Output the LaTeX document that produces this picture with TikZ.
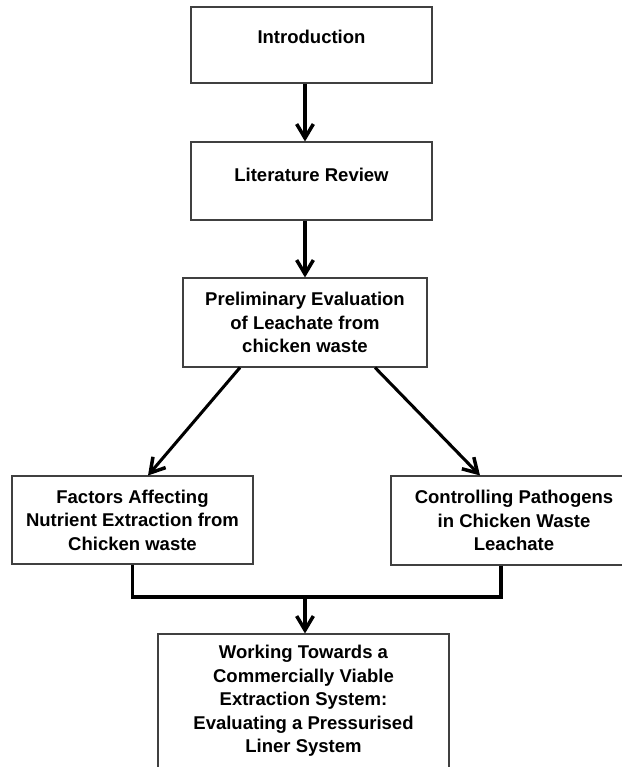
\documentclass[tikz,border=0pt]{standalone}
\usepackage{fontspec}
\setmainfont{Liberation Sans}
\usetikzlibrary{arrows.meta}

\begin{document}
\begin{tikzpicture}%[node distance = 4cm]
  [node distance=4.08cm,
   box/.style={rectangle, draw=black!75, line width=0.9pt, align=center, inner sep=0pt,
     font=\bfseries\fontsize{15.8}{20}\selectfont},
   flow/.style={line width=2.6pt, -{Straight Barb[length=0.42cm,width=0.5cm,line width=3pt]}},
   merger/.style={line width=2.6pt}]

\useasboundingbox (0,0) rectangle (18.66,-23.01);

%%%  nodes

% top
\node [box, minimum width=7.23cm, minimum height=2.28cm, text depth=0.48cm] (intro) at (9.345,-1.35) {Introduction};

% next from top
\node [box, below of=intro, minimum width=7.23cm, minimum height=2.34cm, text depth=0.36cm] (lit) {Literature Review};

% evaluation
\node [box, below of=lit, node distance=4.245cm, xshift=-0.195cm, minimum width=7.32cm, minimum height=2.67cm]
  (prelim) {Preliminary Evaluation\\of Leachate from\\chicken waste};

% two branches
\node [box, below of=prelim, node distance=5.925cm, xshift=-5.175cm, minimum width=7.23cm, minimum height=2.64cm]
  (factors) {Factors Affecting\\Nutrient Extraction from\\Chicken waste};
\node [box, below of=prelim, node distance=5.94cm, xshift=6.27cm, minimum width=7.38cm, minimum height=2.67cm]
  (pathogens) {Controlling Pathogens\\in Chicken Waste\\Leachate};

% meeting point
\coordinate [below of=prelim, node distance=8.235cm] (merge);

% bottom
\node [box, below of=prelim, node distance=12.045cm, xshift=-0.045cm, minimum width=8.73cm, minimum height=5.4cm, text depth=1.5cm]
  (final) {Working Towards a\\Commercially Viable\\Extraction System:\\Evaluating a Pressurised\\Liner System};

%%%  edges

% straight down
\draw [flow] (intro.south -| prelim.north) to (lit.north -| prelim.north);
\draw [flow] (lit.south -| prelim.north) to (prelim.north);

% branches
\draw [flow] ([xshift=-1.95cm]prelim.south) to ([xshift=0.465cm]factors.north);
\draw [flow] ([xshift=2.1cm]prelim.south) to ([xshift=-1.02cm]pathogens.north);

% back together
\draw [merger] (factors.south) |- (merge);
\draw [merger] ([xshift=-0.39cm]pathogens.south) |- (merge);
\draw [flow] (merge) to (merge |- final.north);

\end{tikzpicture}
\end{document}
